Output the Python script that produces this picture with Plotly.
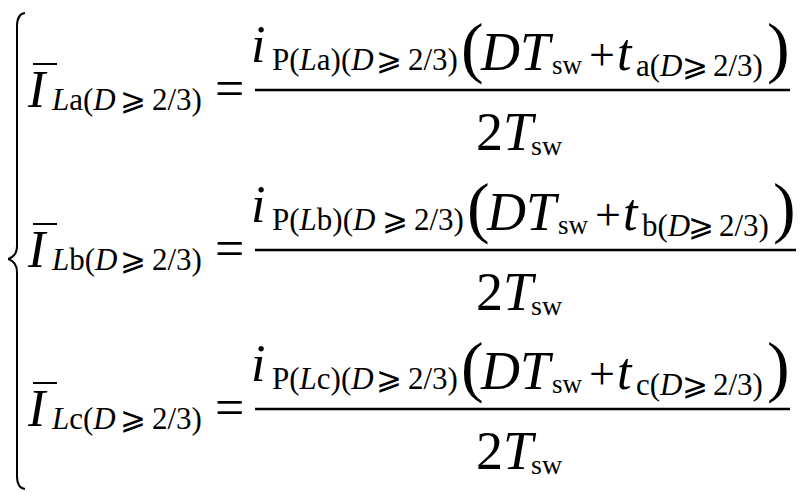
import plotly.graph_objects as go

SERIF = "Liberation Serif, Times New Roman, serif"
MATH = "DejaVu Sans ExtraLight, DejaVu Sans, serif"

# one line of the system per phase
phases = ["a", "b", "c"]
row_shift = [0, 160, 319]      # vertical offset of each line (px)
tail_shift = [0, 6, 0]         # the "b" subscripts run a little wider

relation = "⩾"
ratio_text = "2/3)"
sw_text = "sw"

SUB = 31   # subscript size
BIG = 52   # main symbol size
PAGE_PAD = 8  # the html body margin that shifts the figure

fig = go.Figure()


def put(text, x, base, size, italic=False, family=SERIF, weight="normal"):
    # place text so that its baseline sits at `base` (pixels from top)
    fig.add_annotation(
        x=x, y=base - 0.34 * size, xref="x", yref="y",
        text=text, showarrow=False, xanchor="left", yanchor="middle",
        borderpad=0,
        font=dict(family=family, size=size, color="black", weight=weight,
                  style="italic" if italic else "normal"),
    )


def hline(x0, x1, y, width):
    fig.add_shape(type="line", x0=x0, x1=x1, y0=y, y1=y, xref="x", yref="y",
                  line=dict(color="black", width=width))


for ph, dy, dx in zip(phases, row_shift, tail_shift):
    # left-hand side: mean current
    hline(33, 57, 64 + dy, 2)
    put("I", 26, 107 + dy, BIG, italic=True)
    put("<i>L</i>" + ph + "(<i>D</i>", 50, 110 + dy, SUB)
    put(relation, 119, 110 + dy, SUB, family=MATH, weight=200)
    put(ratio_text, 151, 110 + dy, SUB)
    put("=", 214, 106 + dy, 52)

    # numerator
    put("i", 250, 62 + dy, BIG, italic=True)
    put("P(<i>L</i>" + ph + ")(<i>D</i>", 271, 70 + dy, SUB)
    put(relation, 375 + dx, 70 + dy, SUB, family=MATH, weight=200)
    put(ratio_text, 407 + dx, 70 + dy, SUB)
    put("(", 460 + dx, 70 + dy, 68)
    put("DT", 479 + dx, 70 + dy, 54, italic=True)
    put(sw_text, 551 + dx, 74 + dy, 27)
    put("+", 588 + dx, 70 + dy, 46)
    put("t", 616 + dx, 70 + dy, BIG, italic=True)
    put(ph + "(<i>D</i>", 635 + dx, 76 + dy, SUB)
    put(relation, 681 + dx, 76 + dy, SUB, family=MATH, weight=200)
    put(ratio_text, 712 + dx, 76 + dy, SUB)
    put(")", 766 + dx, 70 + dy, 68)

    # fraction bar and denominator
    hline(255, 790 + dx, 90 + dy, 2.5)
    put("2<i>T</i>", 475, 150 + dy, 54)
    put(sw_text, 530, 155 + dy, 28)

# the big left brace
fig.add_shape(
    type="path", xref="x", yref="y",
    path="M 25,13 Q 17,14 17,26 L 17,246 Q 17,256 8,259 "
         "Q 17,262 17,272 L 17,476 Q 17,488 25,489",
    line=dict(color="black", width=2),
)

fig.update_layout(
    width=806, height=500,
    margin=dict(l=0, r=0, t=0, b=0),
    paper_bgcolor="white", plot_bgcolor="white",
    showlegend=False,
    xaxis=dict(range=[PAGE_PAD, 806 + PAGE_PAD], visible=False, fixedrange=True),
    yaxis=dict(range=[500 + PAGE_PAD, PAGE_PAD], visible=False, fixedrange=True),
)

fig.write_html("out.html")
